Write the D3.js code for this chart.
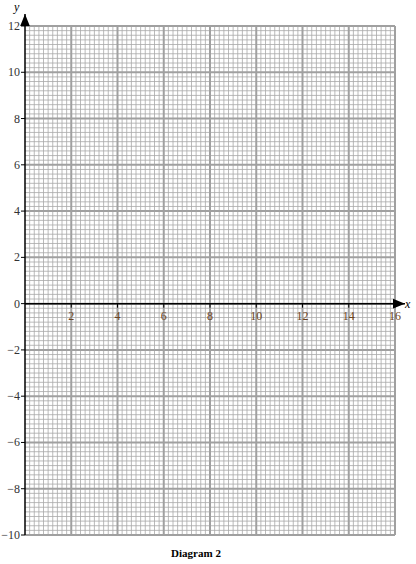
<!DOCTYPE html>
<html><head><meta charset="utf-8">
<script src="https://cdn.jsdelivr.net/npm/d3@7"></script>
<style>body{margin:0;background:#fff}text{font-family:"Liberation Serif",serif}</style>
</head><body><svg id="c" width="416" height="564"></svg>
<script>
// axis ranges and labels
var xDomain = [0, 16];
var yDomain = [-10, 12];
var xTicks = [2, 4, 6, 8, 10, 12, 14, 16];
var yTicks = [-10, -8, -6, -4, -2, 0, 2, 4, 6, 8, 10, 12];
var caption = "Diagram 2";

var svg = d3.select("#c");
var x = d3.scaleLinear().domain(xDomain).range([25, 395]);
var y = d3.scaleLinear().domain(yDomain).range([535, 26]);

//minor grid every 0.2
var minorX = d3.range(0, 80).map(i => i * 0.2).filter(v => Math.round(v * 5) % 10 != 0);
var minorY = d3.range(-50, 61).map(i => i * 0.2).filter(v => Math.round(v * 5) % 10 != 0);
var g = svg.append("g");
g.selectAll(".mx").data(minorX).join("line")
  .attr("x1", d => x(d)).attr("x2", d => x(d)).attr("y1", y(12)).attr("y2", y(-10))
  .attr("stroke", "#a8a8a8").attr("stroke-width", 0.8);
g.selectAll(".my").data(minorY).join("line")
  .attr("y1", d => y(d)).attr("y2", d => y(d)).attr("x1", x(0)).attr("x2", x(16))
  .attr("stroke", "#a8a8a8").attr("stroke-width", 0.8);
//major grid every 2
g.selectAll(".Mx").data(d3.range(2, 17, 2)).join("line")
  .attr("x1", d => x(d)).attr("x2", d => x(d)).attr("y1", y(12)).attr("y2", y(-10))
  .attr("stroke", "#a0a0a0").attr("stroke-width", 2);
g.selectAll(".My").data(yTicks).join("line")
  .attr("y1", d => y(d)).attr("y2", d => y(d)).attr("x1", x(0)).attr("x2", x(16))
  .attr("stroke", "#a0a0a0").attr("stroke-width", 2);

// axes
svg.append("defs").append("marker").attr("id", "ar").attr("viewBox", "0 0 10 10")
  .attr("refX", 10).attr("refY", 5).attr("markerWidth", 8).attr("markerHeight", 8)
  .attr("orient", "auto-start-reverse").append("path").attr("d", "M0,1L10,5L0,9Z").attr("fill", "#000");
svg.append("line").attr("x1", x(0)).attr("x2", 405).attr("y1", y(0)).attr("y2", y(0))
  .attr("stroke", "#000").attr("stroke-width", 1.5).attr("marker-end", "url(#ar)");
svg.append("line").attr("x1", x(0)).attr("x2", x(0)).attr("y1", y(-10)).attr("y2", 14)
  .attr("stroke", "#000").attr("stroke-width", 1.5).attr("marker-end", "url(#ar)");

// ticks
svg.selectAll(".xt").data(xTicks).join("line")
  .attr("x1", d => x(d)).attr("x2", d => x(d)).attr("y1", y(0)).attr("y2", y(0) + 4).attr("stroke", "#000");
svg.selectAll(".xl").data(xTicks).join("text")
  .attr("x", d => x(d)).attr("y", y(0) + 16).attr("text-anchor", "middle")
  .attr("font-size", 12).attr("fill", "#6b4422").text(d => d);
svg.selectAll(".yt").data(yTicks).join("line")
  .attr("x1", x(0) - 4).attr("x2", x(0)).attr("y1", d => y(d)).attr("y2", d => y(d)).attr("stroke", "#000");
svg.selectAll(".yl").data(yTicks).join("text")
  .attr("x", x(0) - 5).attr("y", d => y(d) + 4).attr("text-anchor", "end")
  .attr("font-size", 12).attr("fill", "#333").text(d => d < 0 ? "\u2212" + (-d) : d);

svg.append("text").attr("x", 405).attr("y", y(0) + 4).attr("font-size", 12).attr("font-style", "italic").text("x");
svg.append("text").attr("x", 14).attr("y", 11).attr("font-size", 12).attr("font-style", "italic").text("y");
svg.append("text").attr("x", 196).attr("y", 557).attr("text-anchor", "middle")
  .attr("font-size", 11).attr("font-weight", "bold").text(caption);
</script></body></html>
